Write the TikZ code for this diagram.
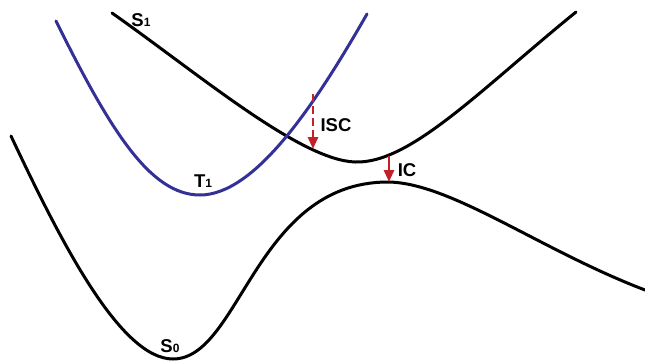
\documentclass[tikz,border=0pt]{standalone}
\usepackage{fontspec}
\setmainfont{Liberation Sans}
\usetikzlibrary{arrows.meta}
\definecolor{tripblue}{RGB}{52,48,150}
\definecolor{arrowred}{RGB}{196,32,40}

\begin{document}
\begin{tikzpicture}[
    x=1pt, y=-1pt,
    every node/.style={font=\bfseries\fontsize{18.5}{22}\selectfont, inner sep=0pt},
    curve/.style={line width=3pt, line cap=round},
    trans/.style={arrowred, line width=2.8pt, -{Triangle[length=12pt,width=10pt]}}
]
\useasboundingbox (0,0) rectangle (645,362);

% potential energy curves
\draw[curve, black] (112,13) .. controls (200,75) and (300,160) .. (355,162)
    .. controls (410,164) and (480,90) .. (576,12);
\draw[curve, tripblue] (56,21) .. controls (110,130) and (150,195) .. (200,195)
    .. controls (255,195) and (315,105) .. (367,14);
\draw[curve, black] (11,136) .. controls (60,240) and (120,359) .. (173,359)
    .. controls (240,359) and (255,183) .. (387,182)
    .. controls (450,182) and (540,250) .. (645,290);

% transition end points
\coordinate (iscTop) at (313,94);
\coordinate (iscEnd) at (313,149);
\coordinate (icTop) at (389,156);
\coordinate (icEnd) at (389,182);

% transitions
\draw[trans, dash pattern=on 8pt off 4pt] (iscTop) -- (iscEnd);
\draw[trans] (icTop) -- (icEnd);

% labels
\node (s1) at (141,20) {S\fontsize{12}{14}\selectfont1};
\node (t1) at (203,181) {T\fontsize{12}{14}\selectfont1};
\node (s0) at (170,346) {S\fontsize{12}{14}\selectfont0};
\node (isc) at (336,125) {ISC};
\node (ic) at (407,170) {IC};
\end{tikzpicture}
\end{document}
